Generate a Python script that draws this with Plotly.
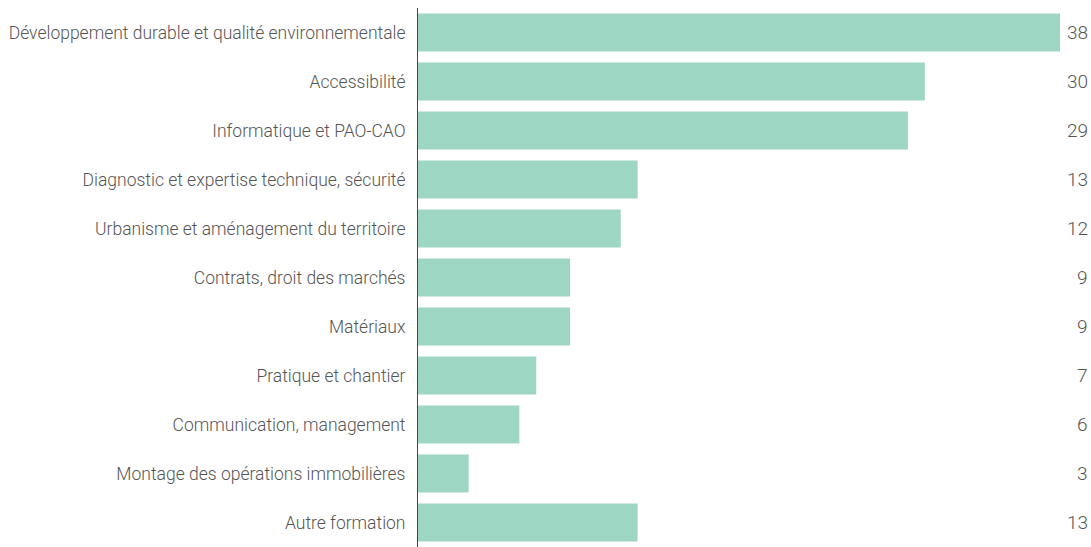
import plotly.graph_objects as go

categories = [
    "Développement durable et qualité environnementale",
    "Accessibilité",
    "Informatique et PAO-CAO",
    "Diagnostic et expertise technique, sécurité",
    "Urbanisme et aménagement du territoire",
    "Contrats, droit des marchés",
    "Matériaux",
    "Pratique et chantier",
    "Communication, management",
    "Montage des opérations immobilières",
    "Autre formation",
]
values = [38, 30, 29, 13, 12, 9, 9, 7, 6, 3, 13]

FONT = "Roboto, Liberation Sans, sans-serif"
TXT = "#555555"
FS = 17.5

fig = go.Figure(go.Bar(
    x=values, y=categories, orientation="h",
    marker=dict(color="#9ed6c4", line=dict(width=0)),
    hoverinfo="x+y",
))

for c, v in zip(categories, values):
    fig.add_annotation(x=1, xref="paper", y=c, yref="y", text=str(v),
                       xanchor="right", yanchor="middle", xshift=30,
                       showarrow=False,
                       font=dict(family=FONT, size=19, color=TXT, weight=300))

fig.update_layout(
    width=1091, height=547,
    margin=dict(l=418, r=31, t=8, b=0),
    paper_bgcolor="white", plot_bgcolor="white",
    bargap=0.225, showlegend=False,
    font=dict(family=FONT, size=FS, color=TXT),
)
fig.update_xaxes(range=[0, 38], visible=False, showgrid=False, zeroline=False,
                 automargin=False)
fig.update_yaxes(autorange="reversed", showline=True, linecolor="#444444", linewidth=1,
                 showgrid=False, ticks="", ticklabelstandoff=8, automargin=False,
                 tickfont=dict(family=FONT, size=FS, color=TXT, weight=300))

fig.write_html("out.html", config={"displayModeBar": False},
               post_script="document.body.style.margin='0';document.body.style.overflow='hidden';")
